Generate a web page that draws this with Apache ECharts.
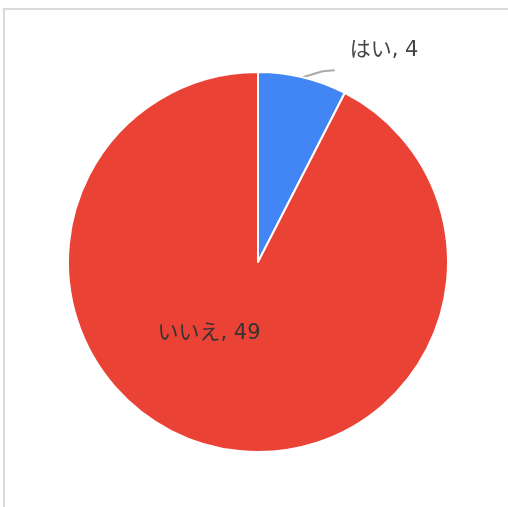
<!DOCTYPE html>
<html>
<head>
<meta charset="utf-8">
<script src="https://cdn.jsdelivr.net/npm/echarts@6/dist/echarts.min.js"></script>
<style>
html,body{margin:0;padding:0;background:#fff;}
#frame{position:absolute;left:3px;top:8px;width:505px;height:499px;border-left:2px solid #dadada;border-top:2px solid #dadada;box-sizing:border-box;}
#chart{position:absolute;left:0;top:0;width:508px;height:507px;}
</style>
</head>
<body>
<div id="frame"></div>
<div id="chart"></div>
<script>
var categories = ['はい', 'いいえ'];
var values = [4, 49];
var colors = ['#4285f4', '#ea4335'];

var chart = echarts.init(document.getElementById('chart'), null, {renderer: 'canvas'});
var data = categories.map(function (c, i) {
  var item = {name: c, value: values[i], itemStyle: {color: colors[i]}};
  if (i === 0) {
    item.label = {position: 'outside', color: '#444'};
    item.labelLine = {show: true, length: 12, length2: 16, lineStyle: {color: '#aaa', width: 2}};
  } else {
    item.label = {position: 'inside', color: '#333'};
    item.labelLine = {show: false};
  }
  return item;
});
chart.setOption({
  animation: false,
  series: [{
    type: 'pie',
    center: [258, 262],
    radius: [0, 190],
    startAngle: 90,
    clockwise: true,
    avoidLabelOverlap: false,
    itemStyle: {borderColor: '#fff', borderWidth: 2},
    label: {
      formatter: '{b}, {c}',
      fontSize: 21,
      fontFamily: '"DejaVu Sans", "Noto Sans CJK JP", sans-serif',
      distanceToLabelLine: 12
    },
    labelLayout: function (p) {
      if (p.dataIndex === 1) return {dx: -26, dy: -24};
      var pts = p.labelLinePoints;
      if (!pts) return {};
      var s = pts[0];
      var m = [s[0] + 20, s[1] - 6];
      var e = [m[0] + 12, m[1] - 1];
      return {
        labelLinePoints: [s, m, e],
        x: e[0] + 15,
        y: e[1] - 20,
        align: 'left',
        verticalAlign: 'middle'
      };
    },
    data: data
  }]
});
</script>
</body>
</html>
